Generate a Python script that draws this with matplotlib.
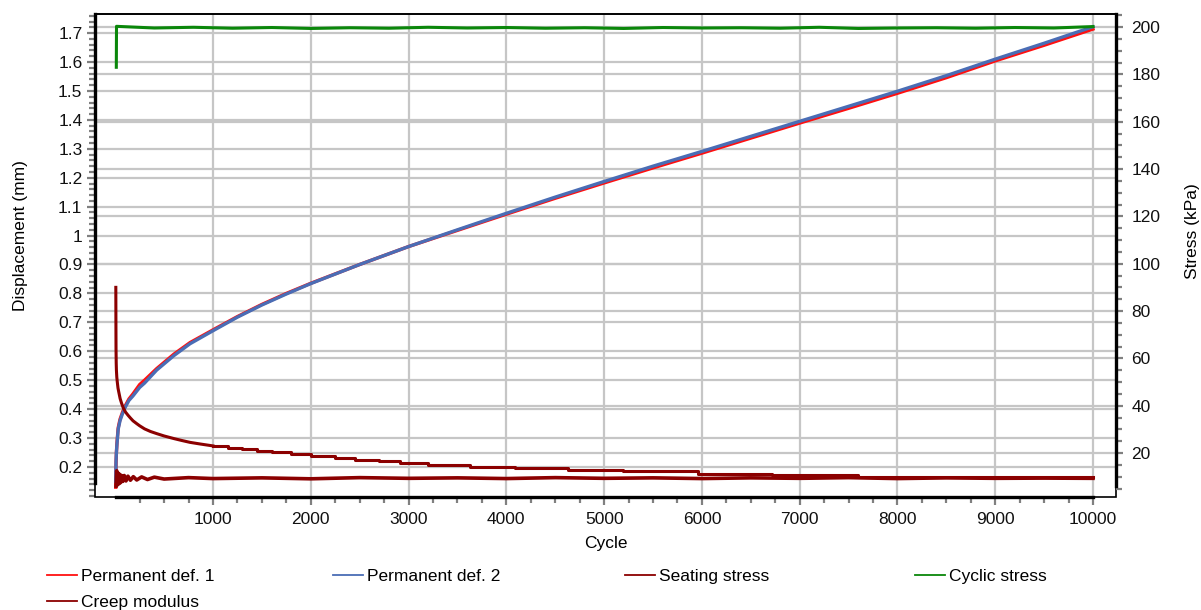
import matplotlib
matplotlib.use('Agg')
import matplotlib.pyplot as plt
import matplotlib.ticker as mticker
from matplotlib.lines import Line2D
from matplotlib.patches import Rectangle
import numpy as np

plt.rcParams['font.family'] = ['Liberation Sans', 'DejaVu Sans']
plt.rcParams['font.size'] = 12.5

# permanent deformation (mm)
def_cycles = [5, 8, 12, 18, 30, 49, 75, 100, 140, 180, 250, 300, 424, 600, 765, 1000,
              1250, 1500, 1750, 2000, 2500, 3000, 3500, 4000, 4500, 5000, 5500, 6000,
              6500, 7000, 7500, 8000, 8500, 9000, 9500, 10000]
perm_def_1 = [0.13, 0.21, 0.25, 0.285, 0.335, 0.365, 0.39, 0.41, 0.435, 0.452, 0.485, 0.50,
              0.54, 0.59, 0.63, 0.674, 0.72, 0.762, 0.80, 0.835, 0.90, 0.962, 1.018, 1.074,
              1.129, 1.182, 1.234, 1.285, 1.337, 1.389, 1.440, 1.492, 1.546, 1.604, 1.658, 1.714]
perm_def_2 = [0.15, 0.22, 0.25, 0.28, 0.33, 0.36, 0.385, 0.405, 0.43, 0.445, 0.475, 0.49,
              0.535, 0.585, 0.626, 0.671, 0.718, 0.76, 0.798, 0.834, 0.90, 0.962, 1.02, 1.077,
              1.133, 1.187, 1.24, 1.291, 1.343, 1.395, 1.447, 1.499, 1.553, 1.61, 1.665, 1.722]

# stresses (kPa)
cyc_cycles = [11, 13, 400, 800, 1200, 1600, 2000, 2400, 2800, 3200, 3600, 4000, 4400, 4800,
              5200, 5600, 6000, 6400, 6800, 7200, 7600, 8000, 8400, 8800, 9200, 9600, 10000]
cyclic_stress = [183, 200.3, 199.6, 199.9, 199.5, 199.8, 199.4, 199.7, 199.5, 199.9, 199.6,
                 199.8, 199.5, 199.7, 199.4, 199.8, 199.6, 199.7, 199.5, 199.9, 199.4, 199.6,
                 199.7, 199.5, 199.8, 199.6, 200.2]

seat_cycles = [8, 15, 22, 30, 38, 46, 55, 65, 78, 92, 110, 130, 155, 185, 220, 270, 330,
               400, 500, 750, 1000, 1500, 2000, 2500, 3000, 3500, 4000, 4500, 5000, 5500,
               6000, 6500, 7000, 7500, 8000, 8500, 9000, 9500, 10000]
seating_stress = [6.0, 12.5, 6.5, 11.5, 7.0, 11.0, 7.5, 10.5, 8.0, 10.5, 8.2, 10.2, 8.5, 10.0,
                  8.6, 9.9, 8.8, 9.8, 9.0, 9.6, 9.2, 9.5, 9.1, 9.6, 9.3, 9.5, 9.2, 9.6, 9.3,
                  9.5, 9.2, 9.5, 9.3, 9.6, 9.2, 9.5, 9.3, 9.4, 9.3]

# creep modulus: smooth decay, then stepped levels after ~1000 cycles
creep_cycles = [6, 7, 8, 10, 12, 16, 21, 28, 35, 50, 65, 83, 105, 130, 155, 182, 220, 250,
                300, 360, 424, 500, 600, 680, 765, 870, 1000, 1150, 1300, 1450, 1600, 1800,
                2000, 2250, 2450, 2700, 2910, 3200, 3625, 4090, 4630, 5190, 5960, 6714, 7600,
                10000]
creep_modulus = [90, 75, 64, 58, 55, 52, 50, 47.5, 46, 43, 41, 39, 37.3, 36, 34.8, 33.6,
                 32.4, 31.5, 30.2, 29.1, 28.2, 27.2, 26.1, 25.3, 24.5, 23.8, 23.0, 22.3, 21.6,
                 20.9, 20.3, 19.4, 18.6, 17.8, 17.2, 16.5, 15.9, 15.0, 14.2, 13.5, 12.8, 12.2,
                 11.3, 10.7, 9.8, 9.8]
creep_split = 26  # index where the staircase part begins (1000 cycles)

disp_ticks = [0.2, 0.3, 0.4, 0.5, 0.6, 0.7, 0.8, 0.9, 1.0, 1.1, 1.2, 1.3, 1.4, 1.5, 1.6, 1.7]
stress_ticks = [20, 40, 60, 80, 100, 120, 140, 160, 180, 200]
cycle_ticks = [1000, 2000, 3000, 4000, 5000, 6000, 7000, 8000, 9000, 10000]

RED = '#ff1010'
BLUE = '#4a6db5'
DARKRED = '#8b0000'
GREEN = '#0a870a'
GRID = '#c6c6c6'
TICK = '#808080'

fig = plt.figure(figsize=(12.01, 6.10), dpi=100)
ax = fig.add_axes([0.0791, 0.1852, 0.8501, 0.7918])
ax2 = ax.twinx()

ax.set_xlim(-207, 10235)
ax.set_ylim(0.096, 1.766)
ax2.set_ylim(1.4, 205.5)

# grids (right-axis grid drawn in the lower axes so it stays under data)
ax.set_axisbelow(True)
ax.grid(True, which='major', color=GRID, lw=1.6)
for v in stress_ticks:
    ax.plot([0, 1], [v, v], transform=ax2.get_yaxis_transform(), color=GRID, lw=1.6, zorder=0.5)

ax.plot(def_cycles, perm_def_1, color=RED, lw=2.4, zorder=2)
ax.plot(def_cycles, perm_def_2, color=BLUE, lw=2.4, zorder=3)

ax2.plot(seat_cycles, seating_stress, color=DARKRED, lw=2.6)
ax2.plot(creep_cycles[:creep_split + 1], creep_modulus[:creep_split + 1], color=DARKRED, lw=2.2)
ax2.plot(creep_cycles[creep_split:], creep_modulus[creep_split:], color=DARKRED, lw=2.2,
         drawstyle='steps-post')
ax2.plot(cyc_cycles, cyclic_stress, color=GREEN, lw=2.2)

# ticks
ax.xaxis.set_major_locator(mticker.FixedLocator(cycle_ticks))
ax.xaxis.set_minor_locator(mticker.FixedLocator([c for c in range(250, 10001, 250) if c % 1000]))
ax.yaxis.set_major_locator(mticker.FixedLocator(disp_ticks))
ax.yaxis.set_major_formatter(mticker.FormatStrFormatter('%g'))
ax.yaxis.set_minor_locator(mticker.MultipleLocator(0.02))
ax2.yaxis.set_major_locator(mticker.FixedLocator(stress_ticks))
ax2.yaxis.set_minor_locator(mticker.MultipleLocator(5))

ax.tick_params(axis='both', which='major', direction='out', length=6, width=1.6,
               color=TICK, labelcolor='#111111')
ax.tick_params(axis='both', which='minor', direction='out', length=4, width=1.6, color=TICK)
ax.tick_params(axis='x', pad=5)
ax.tick_params(axis='y', pad=3)
ax2.tick_params(axis='y', which='major', direction='out', length=5, width=1.6,
                color=TICK, labelcolor='#111111', pad=6)
ax2.tick_params(axis='y', which='minor', direction='out', length=4, width=1.6, color=TICK)

# spines: thin frame + thick segments over the data range
for s in ['left', 'bottom', 'top']:
    ax2.spines[s].set_visible(False)
ax.spines['right'].set_visible(False)
ax.spines['top'].set_linewidth(1.2)
ax.spines['left'].set_linewidth(2.4)
ax.spines['left'].set_bounds(0.145, 1.766)
ax.spines['bottom'].set_linewidth(2.4)
ax.spines['bottom'].set_bounds(8, 10000)
ax2.spines['right'].set_linewidth(2.4)
ax2.spines['right'].set_bounds(6, 205.5)
ax.add_patch(Rectangle((0, 0), 1, 1, transform=ax.transAxes, fill=False,
                       lw=1.2, ec='black', clip_on=False, zorder=1))

ax.set_xlabel('Cycle')
ax.xaxis.set_label_coords(0.5, -0.081)
ax.set_ylabel('Displacement (mm)')
ax.yaxis.set_label_coords(-0.0656, 0.542)
ax2.set_ylabel('Stress (kPa)')
ax2.yaxis.set_label_coords(1.0676, 0.551)

# legend laid out in fixed-width columns
labels = ['Permanent def. 1', 'Permanent def. 2', 'Seating stress', 'Cyclic stress', 'Creep modulus']
colors = [RED, BLUE, DARKRED, GREEN, DARKRED]
col_x = [47, 333, 625, 915]
row_y = [576, 602]
for i, (lab, c) in enumerate(zip(labels, colors)):
    x = col_x[i % 4]
    y = row_y[i // 4]
    fig.legend(handles=[Line2D([], [], color=c, lw=1.3)], labels=[lab],
               loc='center left', bbox_to_anchor=(x / 1201, 1 - y / 610),
               frameon=False, borderpad=0, borderaxespad=0,
               handlelength=1.75, handletextpad=0.2)

fig.savefig('out.png', dpi=100)
